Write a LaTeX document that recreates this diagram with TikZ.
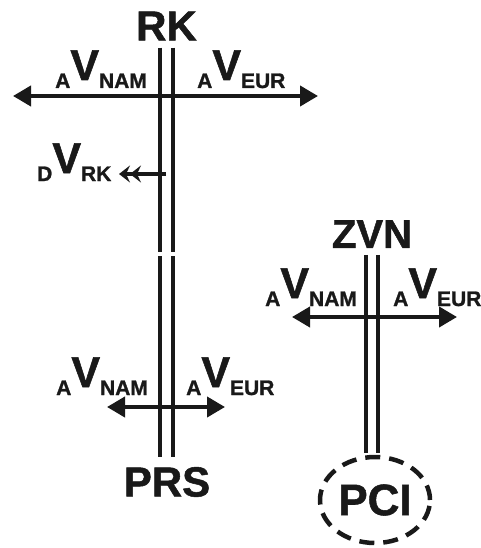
\documentclass[tikz,border=0pt]{standalone}
\usepackage{fontspec}
\setmainfont{Liberation Sans}[BoldFeatures={FakeBold=1.2}]
\usepackage{tikz}
\usetikzlibrary{arrows.meta, shapes.geometric, positioning}

\colorlet{ink}{black!90}
\newcommand{\velo}[2]{\raisebox{-8pt}{\fontsize{21}{21}\selectfont #1}{\fontsize{43}{43}\selectfont V}\raisebox{-8pt}{\fontsize{21}{21}\selectfont #2}}

\begin{document}
\begin{tikzpicture}[
    x=1pt, y=-1pt,
    every node/.style={text=ink},
    station/.style={inner sep=0pt, font=\bfseries\fontsize{42}{42}\selectfont},
    vlab/.style={inner sep=0pt, anchor=base west, font=\bfseries},
    rail/.style={draw=ink, line width=3.5pt},
    flow/.style={draw=ink, line width=4pt, {Triangle[length=18pt,width=20pt]}-{Triangle[length=18pt,width=20pt]}},
    dflow/.style={draw=ink, line width=3.5pt, -{Stealth[length=11pt,width=17pt,inset=4pt]Stealth[length=11pt,width=17pt,inset=4pt]}},
    pci/.style={ellipse, draw=ink, dashed, dash pattern=on 15pt off 9pt, line width=4.5pt, minimum width=110pt, minimum height=86pt, inner sep=0pt, font=\bfseries\fontsize{44}{44}\selectfont},
]
    \useasboundingbox (0,0) rectangle (481,548);

    % Stations
    \node[station] (rk) at (166.5,26) {RK};
    \node[station] (prs) at (167,482) {PRS};
    \node[station, font=\bfseries\fontsize{40}{40}\selectfont] (zvn) at (372,234) {ZVN};
    \node[pci] (pci) at (375,500) {PCI};

    % Rails, two lines each, with a break on the left track
    \coordinate (cutA) at (166.5,252);
    \coordinate (cutB) at (166.5,256);
    \coordinate (prsTop) at (166.5,457);
    \coordinate (zvnEnd) at (zvn.south |- pci.north);
    \foreach \dx in {-6.5,6.5} {
        \draw[rail] ([xshift=\dx pt,yshift=-7pt]rk.south) -- ([xshift=\dx pt]cutA);
        \draw[rail] ([xshift=\dx pt]cutB) -- ([xshift=\dx pt]prsTop);
    }
    \foreach \dx in {-6,6}
        \draw[rail] ([xshift=\dx pt,yshift=-7pt]zvn.south) -- ([xshift=\dx pt,yshift=2pt]zvnEnd);

    % Velocity arrows
    \coordinate (rkW) at (13,96);
    \coordinate (rkE) at (318,96);
    \coordinate (prsW) at (107,407);
    \coordinate (prsE) at (225,407);
    \coordinate (zvnW) at (292,317);
    \coordinate (zvnE) at (457,317);
    \coordinate (drift) at (166,174);
    \coordinate (driftEnd) at (119,174);
    \draw[flow] (rkW) -- (rkE);
    \draw[flow] (prsW) -- (prsE);
    \draw[flow] (zvnW) -- (zvnE);
    \draw[dflow] (drift) -- (driftEnd);

    % Labels
    \node[vlab] (rkNam) at (55,80) {\velo{A}{NAM}};
    \node[vlab] (rkEur) at (197,80) {\velo{A}{EUR}};
    \node[vlab] (rkDrift) at (37,173) {\velo{D}{RK}};
    \node[vlab] (prsNam) at (56,387) {\velo{A}{NAM}};
    \node[vlab] (prsEur) at (186,387) {\velo{A}{EUR}};
    \node[vlab] (zvnNam) at (265,298) {\velo{A}{NAM}};
    \node[vlab] (zvnEur) at (393,298) {\velo{A}{EUR}};
\end{tikzpicture}
\end{document}
